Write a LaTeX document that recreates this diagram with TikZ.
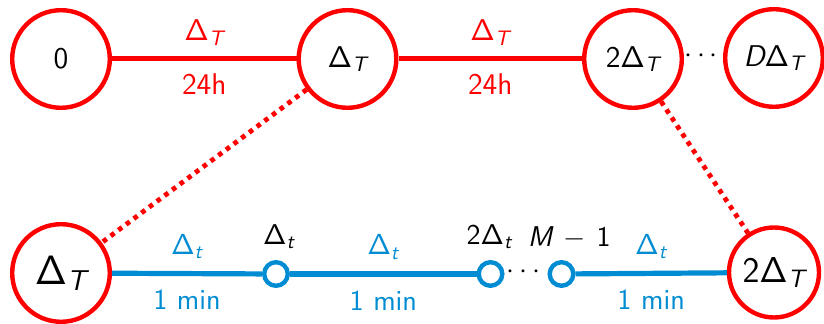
\RequirePackage{fix-cm}
\documentclass[tikz,border=0pt]{standalone}
\usepackage{amsmath}
\usetikzlibrary{calc}
\definecolor{myred}{RGB}{255,0,0}
\definecolor{myblue}{RGB}{0,140,210}
\newcommand\sD{\mathsf{\Delta}}
\newcommand\sT{\text{\sffamily\itshape T}}
\newcommand\st{\text{\sffamily\itshape t}}
\newcommand\sMM{\text{\sffamily\itshape M}}
\newcommand\sDD{\text{\sffamily\itshape D}}
\tikzset{
  bigstate/.style={circle, draw=myred, line width=2.2pt, minimum size=48.8pt, inner sep=0pt, font=\sffamily\fontsize{15}{17}\selectfont},
  smallstate/.style={circle, draw=myblue, line width=2.2pt, minimum size=11.8pt, inner sep=0pt},
  redline/.style={draw=myred, line width=2.5pt},
  blueline/.style={draw=myblue, line width=2.6pt},
  reddot/.style={draw=myred, line width=2.4pt, dash pattern=on 2.3pt off 2.5pt},
  toplab/.style={text=myred, font=\sffamily\fontsize{15}{17}\selectfont, inner sep=0pt},
  botlab/.style={text=myblue, font=\sffamily\fontsize{14.5}{17}\selectfont, inner sep=0pt},
  blklab/.style={text=black, font=\sffamily\fontsize{14.3}{17}\selectfont, inner sep=0pt},
}
\begin{document}
\begin{tikzpicture}[x=0.5pt, y=-0.5pt]
\useasboundingbox (0,0) rectangle (824,324);
% top row
\node[bigstate] (t0) at (61,59) {0};
\node[bigstate] (tA) at (347.5,59) {$\sD_{\sT}$};
\node[bigstate] (tB) at (633,59) {$\mathsf{2}\sD_{\sT}$};
\node[bigstate] (tD) at (774,58) {$\sDD\sD_{\sT}$};
\node[blklab] (tdots) at ($(tB.east)!0.5!(tD.west)+(0,-2)$) {$\cdots$};
% bottom row
\node[bigstate, font=\sffamily\fontsize{20.5}{24}\selectfont] (bA) at (61,273) {$\sD_{\sT}$};
\node[bigstate, minimum size=45pt, font=\sffamily\fontsize{18}{21}\selectfont] (bB) at (774,272.5) {$\mathsf{2}\sD_{\sT}$};
\node[smallstate] (s1) at (276,274) {};
\node[smallstate] (s2) at (490.5,274) {};
\node[smallstate] (s3) at (561.5,274) {};
\node[blklab] (bdots) at ($(s2.east)!0.5!(s3.west)+(0,-2)$) {$\cdots$};
% labels above small states
\node[blklab, anchor=south] (l1) at ($(s1.north)+(3,-11)$) {$\sD_{\st}$};
\node[blklab, anchor=south] (l2) at ($(s2.north)+(-1,-11)$) {$\mathsf{2}\sD_{\st}$};
\node[blklab, anchor=south west] (l3) at ($(s3.north)+(-34,-11)$) {$\sMM\,-\,\mathsf{1}$};
% top edges
\draw[redline] (t0) -- node[toplab, above=5.5pt] {$\sD_{\sT}$} node[toplab, below=6pt] {24h} (tA);
\draw[redline] (tA) -- node[toplab, above=5.5pt] {$\sD_{\sT}$} node[toplab, below=6pt] {24h} (tB);
% bottom edges
\draw[blueline] (bA) -- node[botlab, above=6pt] {$\sD_{\st}$} node[botlab, below=7pt] {1 min} (s1);
\draw[blueline] (s1) -- node[botlab, above=6pt] {$\sD_{\st}$} node[botlab, below=7pt] {1 min} (s2);
\draw[blueline] (s3) -- node[botlab, above=6pt] {$\sD_{\st}$} node[botlab, below=7pt] {1 min} (bB);
% dotted links
\draw[reddot] (tA) -- (bA);
\draw[reddot] (tB) -- (bB);
\end{tikzpicture}
\end{document}
